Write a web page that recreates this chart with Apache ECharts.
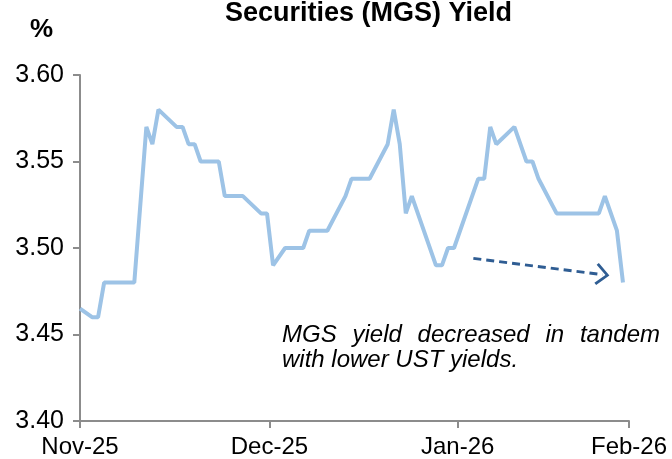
<!DOCTYPE html>
<html>
<head>
<meta charset="utf-8">
<script src="https://cdn.jsdelivr.net/npm/echarts@6/dist/echarts.min.js"></script>
<style>
  html, body { margin: 0; padding: 0; background: #fff; }
  #chart { width: 672px; height: 459px; }
</style>
</head>
<body>
<div id="chart"></div>
<script>
// turning points of the daily MGS yield line (day count from start of Nov-25)
const dayIndex = [0, 2, 3, 4, 9, 11, 12, 13, 16, 17, 18, 19, 20, 23, 24, 27, 30, 31, 32, 34,
  37, 38, 41, 44, 45, 48, 51, 52, 53, 54, 55, 59, 60, 61, 62, 66, 67, 68, 69, 72,
  74, 75, 76, 79, 86, 87, 89, 90]
const yieldPct = [3.465, 3.46, 3.46, 3.48, 3.48, 3.57, 3.56, 3.58, 3.57, 3.57, 3.56, 3.56, 3.55, 3.55, 3.53, 3.53, 3.52, 3.52, 3.49, 3.50,
  3.50, 3.51, 3.51, 3.53, 3.54, 3.54, 3.56, 3.58, 3.56, 3.52, 3.53, 3.49, 3.49, 3.50, 3.50, 3.54, 3.54, 3.57, 3.56, 3.57,
  3.55, 3.55, 3.54, 3.52, 3.52, 3.53, 3.51, 3.48]

const monthTicks = [0, 31.4, 62.6, 91]
const monthLabels = ['Nov-25', 'Dec-25', 'Jan-26', 'Feb-26']

// dashed trend arrow (x in days, y in %)
const arrowFrom = [65.2, 3.494]
const arrowTo = [86.6, 3.4846]

const noteLine1 = ['MGS', 'yield', 'decreased', 'in', 'tandem']
const noteLine2 = 'with lower UST yields.'

const axisColor = '#8c8c8c'
const lineColor = '#9dc3e6'
const arrowColor = '#2f5d93'
const fontFamily = 'Liberation Sans, Arial, sans-serif'
const noteFont = 'italic 24px Liberation Sans, Arial, sans-serif'

const seriesData = dayIndex.map((d, i) => [d, yieldPct[i]])

// justify the first note line between left and right edge
function justify(words, left, right, font) {
  const ctx = document.createElement('canvas').getContext('2d')
  ctx.font = font
  const widths = words.map(w => ctx.measureText(w).width)
  const total = widths.reduce((a, b) => a + b, 0)
  const gap = (right - left - total) / (words.length - 1)
  const xs = []
  let x = left
  widths.forEach(w => {
    xs.push(x)
    x += w + gap
  })
  return xs
}
const wordLeft = justify(noteLine1, 282, 660, noteFont)

const chart = echarts.init(document.getElementById('chart'))

chart.setOption({
  animation: false,
  title: {
    text: 'Securities (MGS) Yield',
    left: 220,
    top: -5,
    textStyle: {
      fontFamily,
      fontSize: 27,
      fontWeight: 'bold',
      color: '#000'
    }
  },
  grid: {
    left: 80,
    right: 43,
    top: 75,
    bottom: 37
  },
  xAxis: {
    type: 'value',
    min: 0,
    max: 91,
    axisLine: {
      show: true,
      lineStyle: { color: axisColor, width: 2 }
    },
    axisTick: {
      show: true,
      customValues: monthTicks,
      length: 7,
      lineStyle: { color: axisColor, width: 2 }
    },
    axisLabel: {
      customValues: monthTicks,
      formatter(v) {
        let best = 0
        monthTicks.forEach((t, i) => {
          if (Math.abs(t - v) < Math.abs(monthTicks[best] - v)) best = i
        })
        return monthLabels[best]
      },
      color: '#000',
      fontFamily,
      fontSize: 24,
      margin: 14
    },
    splitLine: { show: false }
  },
  yAxis: {
    type: 'value',
    min: 3.40,
    max: 3.60,
    interval: 0.05,
    axisLine: {
      show: true,
      lineStyle: { color: axisColor, width: 2 }
    },
    axisTick: {
      show: true,
      length: 7,
      lineStyle: { color: axisColor, width: 2 }
    },
    axisLabel: {
      formatter: v => v.toFixed(2),
      color: '#000',
      fontFamily,
      fontSize: 25,
      margin: 16
    },
    splitLine: { show: false }
  },
  graphic: [
    {
      type: 'text',
      left: 30,
      top: 17,
      style: {
        text: '%',
        fontFamily,
        fontSize: 26,
        fontWeight: 'bold',
        fill: '#000'
      }
    },
    ...noteLine1.map((w, i) => ({
      type: 'text',
      left: wordLeft[i],
      top: 323,
      style: {
        text: w,
        font: noteFont,
        fill: '#000'
      }
    })),
    {
      type: 'text',
      left: 282,
      top: 348,
      style: {
        text: noteLine2,
        font: noteFont,
        fill: '#000'
      }
    }
  ],
  series: [
    {
      type: 'line',
      data: seriesData,
      showSymbol: false,
      symbol: 'none',
      lineStyle: { color: lineColor, width: 4 },
      itemStyle: { color: lineColor },
      emphasis: { disabled: true },
      markLine: {
        silent: true,
        animation: false,
        symbol: ['none', 'path://M11,0 L22,12 L20,14 L11,4 L2,14 L0,12 Z'],
        symbolSize: [22, 14],
        label: { show: false },
        lineStyle: { type: [8, 5], color: arrowColor, width: 3 },
        emphasis: { disabled: true },
        data: [
          [
            { coord: arrowFrom },
            { coord: arrowTo }
          ]
        ]
      }
    }
  ]
})
</script>
</body>
</html>
